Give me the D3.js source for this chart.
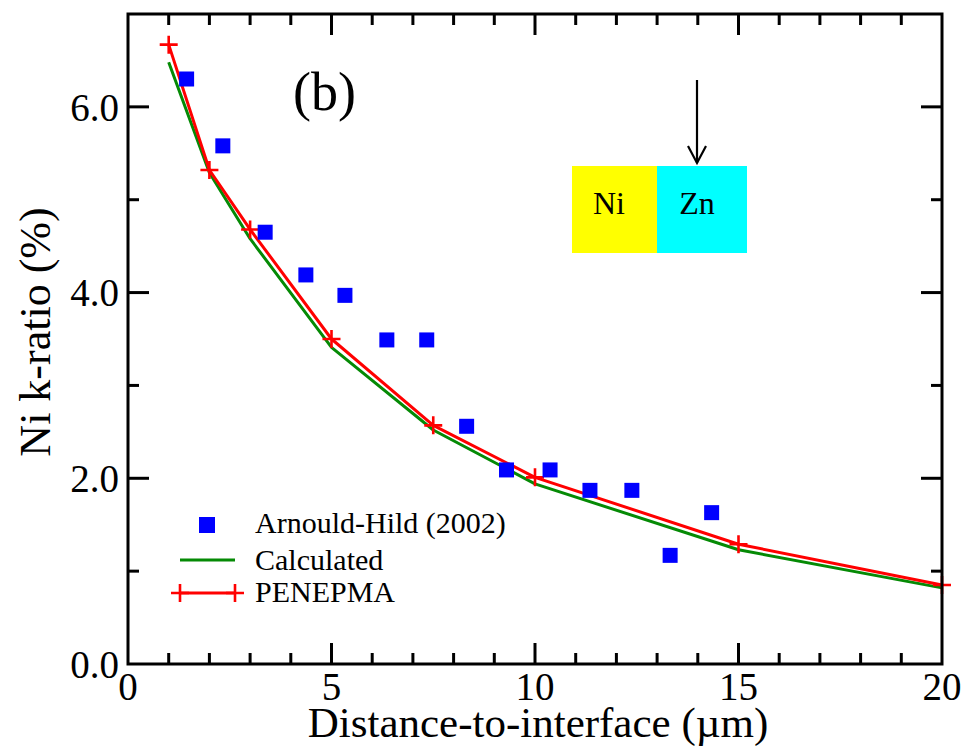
<!DOCTYPE html>
<html>
<head>
<meta charset="utf-8">
<script src="https://cdn.jsdelivr.net/npm/d3@7"></script>
<style>
  html, body { margin: 0; padding: 0; background: #fff; }
  svg { display: block; font-family: "Liberation Serif", "Times New Roman", serif; }
</style>
</head>
<body>
<svg id="chart" width="967" height="754"></svg>
<script>
// Measured Ni k-ratio, Arnould-Hild (2002)
const measuredDistance = [1.44, 2.33, 3.37, 4.37, 5.33, 6.36, 7.34, 8.32, 9.30, 10.37, 11.35, 12.38, 13.32, 14.34];
const measuredRatio    = [6.30, 5.58, 4.65, 4.19, 3.97, 3.49, 3.49, 2.56, 2.09, 2.09, 1.87, 1.87, 1.17, 1.63];

// Simulated distances (µm)
const simDistance      = [1, 2, 3, 5, 7.5, 10, 15, 20];
const calculatedRatio  = [6.48, 5.29, 4.58, 3.41, 2.52, 1.94, 1.23, 0.82];
const penepmaRatio     = [6.67, 5.32, 4.68, 3.50, 2.57, 2.01, 1.29, 0.85];

// Axis ticks
const xMajorTicks = [0, 5, 10, 15, 20];
const xMinorTicks = d3.range(0, 21, 1);
const yMajorTicks = [0, 2, 4, 6];
const yMinorTicks = [1, 3, 5, 7];

const legendLabels = ["Arnould-Hild (2002)", "Calculated", "PENEPMA"];

const svg = d3.select("#chart");
const M = { left: 128, right: 942, top: 14, bottom: 664 };

const x = d3.scaleLinear().domain([0, 20]).range([M.left, M.right]);
const y = d3.scaleLinear().domain([0, 7]).range([M.bottom, M.top]);

const RED = "#ff0000", GREEN = "#058a05", BLUE = "#0000ff";
const MAJ = 21, MIN = 11;

// Inset: Ni / Zn couple with beam arrow
const inset = svg.append("g");
inset.append("rect").attr("x", 572).attr("y", 166).attr("width", 85).attr("height", 87).attr("fill", "#ffff00");
inset.append("rect").attr("x", 657).attr("y", 166).attr("width", 90).attr("height", 87).attr("fill", "#00ffff");
inset.append("text").attr("x", 609).attr("y", 214).attr("text-anchor", "middle")
  .attr("font-size", 32).text("Ni");
inset.append("text").attr("x", 697).attr("y", 214).attr("text-anchor", "middle")
  .attr("font-size", 32).text("Zn");
inset.append("line").attr("x1", 697).attr("x2", 697).attr("y1", 80).attr("y2", 163)
  .attr("stroke", "#000").attr("stroke-width", 2.2);
inset.append("path").attr("d", "M688,146 L697,163 L706,146")
  .attr("fill", "none").attr("stroke", "#000").attr("stroke-width", 2.2);

// Panel label
svg.append("text").attr("x", 293).attr("y", 110).attr("font-size", 54).text("(b)");

// Lines
const line = d3.line().x(d => x(d[0])).y(d => y(d[1]));
const calcPts = simDistance.map((d, i) => [d, calculatedRatio[i]]);
const penePts = simDistance.map((d, i) => [d, penepmaRatio[i]]);

svg.append("path").datum(calcPts).attr("d", line)
  .attr("fill", "none").attr("stroke", GREEN).attr("stroke-width", 3).attr("stroke-linejoin", "round");
svg.append("path").datum(penePts).attr("d", line)
  .attr("fill", "none").attr("stroke", RED).attr("stroke-width", 3).attr("stroke-linejoin", "round");

// Plus markers on PENEPMA
const cross = (g, cx, cy, r) => {
  g.append("path").attr("d", `M${cx - r},${cy} H${cx + r} M${cx},${cy - r} V${cy + r}`)
    .attr("stroke", RED).attr("stroke-width", 2.6).attr("fill", "none");
};
const crossG = svg.append("g");
penePts.forEach(p => cross(crossG, x(p[0]), y(p[1]), 9));

// Measured squares
const SQ = 15;
svg.append("g").selectAll("rect").data(measuredDistance.map((d, i) => [d, measuredRatio[i]]))
  .join("rect")
  .attr("x", d => x(d[0]) - SQ / 2).attr("y", d => y(d[1]) - SQ / 2)
  .attr("width", SQ).attr("height", SQ).attr("fill", BLUE);

// Frame
svg.append("rect").attr("x", M.left).attr("y", M.top)
  .attr("width", M.right - M.left).attr("height", M.bottom - M.top)
  .attr("fill", "none").attr("stroke", "#000").attr("stroke-width", 3);

// Ticks (inward, on all four sides)
const ticks = svg.append("g").attr("stroke", "#000").attr("stroke-width", 3);
xMinorTicks.forEach(t => {
  const len = xMajorTicks.includes(t) ? MAJ : MIN;
  if (t === 0 || t === 20) return;
  ticks.append("line").attr("x1", x(t)).attr("x2", x(t)).attr("y1", M.bottom).attr("y2", M.bottom - len);
  ticks.append("line").attr("x1", x(t)).attr("x2", x(t)).attr("y1", M.top).attr("y2", M.top + len);
});
yMajorTicks.concat(yMinorTicks).forEach(t => {
  if (t === 0 || t === 7) return;
  const len = yMajorTicks.includes(t) ? MAJ : MIN;
  ticks.append("line").attr("x1", M.left).attr("x2", M.left + len).attr("y1", y(t)).attr("y2", y(t));
  ticks.append("line").attr("x1", M.right).attr("x2", M.right - len).attr("y1", y(t)).attr("y2", y(t));
});

// Tick labels
const fmt = d3.format(".1f");
svg.append("g").selectAll("text").data(yMajorTicks).join("text")
  .attr("x", M.left - 9).attr("y", d => y(d)).attr("dy", "0.35em")
  .attr("text-anchor", "end").attr("font-size", 39).text(d => fmt(d));
svg.append("g").selectAll("text").data(xMajorTicks).join("text")
  .attr("x", d => x(d)).attr("y", 700)
  .attr("text-anchor", "middle").attr("font-size", 39).text(d => d);

// Axis titles
svg.append("text").attr("x", (M.left + M.right) / 2 + 3).attr("y", 737)
  .attr("text-anchor", "middle").attr("font-size", 43).text("Distance-to-interface (µm)");
svg.append("text").attr("transform", "translate(50,332) rotate(-90)")
  .attr("text-anchor", "middle").attr("font-size", 44).text("Ni k-ratio (%)");

// Legend
const lg = svg.append("g");
lg.append("rect").attr("x", 207 - 8).attr("y", 525 - 8).attr("width", 16).attr("height", 16).attr("fill", BLUE);
lg.append("line").attr("x1", 180).attr("x2", 235).attr("y1", 560).attr("y2", 560)
  .attr("stroke", GREEN).attr("stroke-width", 3);
lg.append("line").attr("x1", 180).attr("x2", 235).attr("y1", 593).attr("y2", 593)
  .attr("stroke", RED).attr("stroke-width", 3);
cross(lg, 180, 593, 9);
cross(lg, 235, 593, 9);
[533, 570, 602].forEach((by, i) => {
  lg.append("text").attr("x", 255).attr("y", by).attr("font-size", 30).text(legendLabels[i]);
});
</script>
</body>
</html>
